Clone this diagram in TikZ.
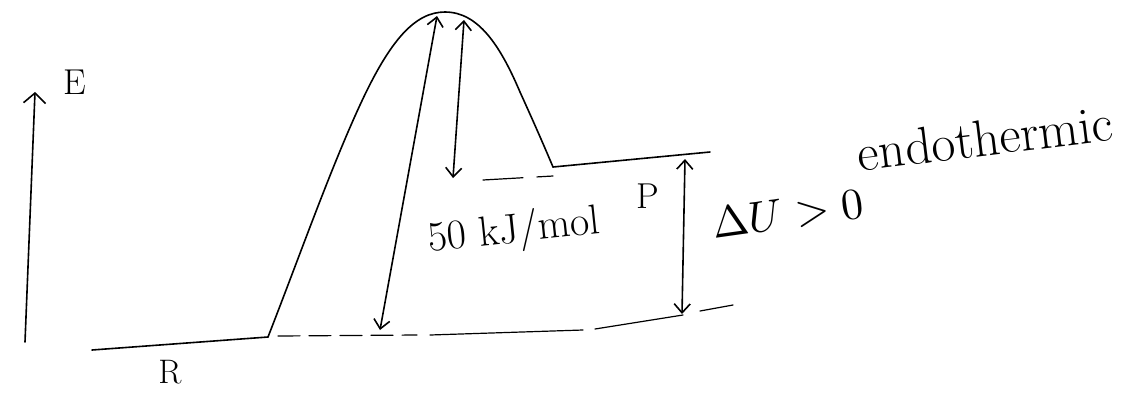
\documentclass[tikz,border=0pt]{standalone}
\usetikzlibrary{arrows.meta}
\begin{document}
\begin{tikzpicture}[x=1pt,y=-1pt,
  ink/.style={line width=1.6pt,line cap=round,line join=round},
  thin ink/.style={line width=1.2pt,line cap=round},
  dbl/.style={ink,{Straight Barb[length=9pt,width=16pt]}-{Straight Barb[length=9pt,width=16pt]}},
  hand/.style={inner sep=0pt,font=\itshape}]
\useasboundingbox (0,0) rectangle (1141,392);
% axis
\coordinate (ax0) at (25,342);
\coordinate (ax1) at (35,92);
\draw[ink,-{Straight Barb[length=10pt,width=22pt]}] (ax0) -- (ax1);
\node[hand,font=\fontsize{36}{40}\selectfont] (E) at (75,82) {E};
% reactant level
\coordinate (r0) at (92,350);
\coordinate (r1) at (268,337);
\draw[ink] (r0) -- (r1);
\node[hand,font=\fontsize{34}{38}\selectfont] (R) at (170,372) {R};
% barrier
\coordinate (top) at (445,12);
\coordinate (p0) at (553,167);
\draw[ink] (r1) .. controls (300,255) and (330,170) .. (360,105)
  .. controls (390,40) and (415,12) .. (top)
  .. controls (478,12) and (500,45) .. (520,92)
  .. controls (535,125) and (545,148) .. (p0);
% product level
\coordinate (p1) at (710,152);
\draw[ink] (p0) -- (p1);
% dashed references
\draw[thin ink,dash pattern=on 22pt off 9pt] (278,336) -- (417,335);
\draw[thin ink] (430,335) -- (583,330);
\draw[thin ink] (595,329) -- (683,315);
\draw[thin ink] (700,311) -- (733,305);
\draw[thin ink,dash pattern=on 40pt off 14pt] (483,180) -- (553,176);
% arrows
\coordinate (a1t) at (437,16);
\coordinate (a1b) at (380,330);
\draw[dbl] (a1b) -- (a1t);
\coordinate (a2t) at (464,20);
\coordinate (a2b) at (453,178);
\draw[dbl] (a2b) -- (a2t);
\coordinate (a3t) at (685,159);
\coordinate (a3b) at (682,314);
\draw[dbl] (a3b) -- (a3t);
% labels
\node[hand,font=\fontsize{42}{46}\selectfont,rotate=6] (lbl50) at (514,232) {50 kJ/mol};
\node[hand,font=\fontsize{36}{40}\selectfont] (P) at (648,196) {P};
\node[inner sep=0pt,scale=4.4,rotate=8] (dU) at (788,214) {$\Delta U > 0$};
\node[hand,font=\fontsize{52}{56}\selectfont,rotate=7] (endo) at (985,138) {endothermic};
\end{tikzpicture}
\end{document}
